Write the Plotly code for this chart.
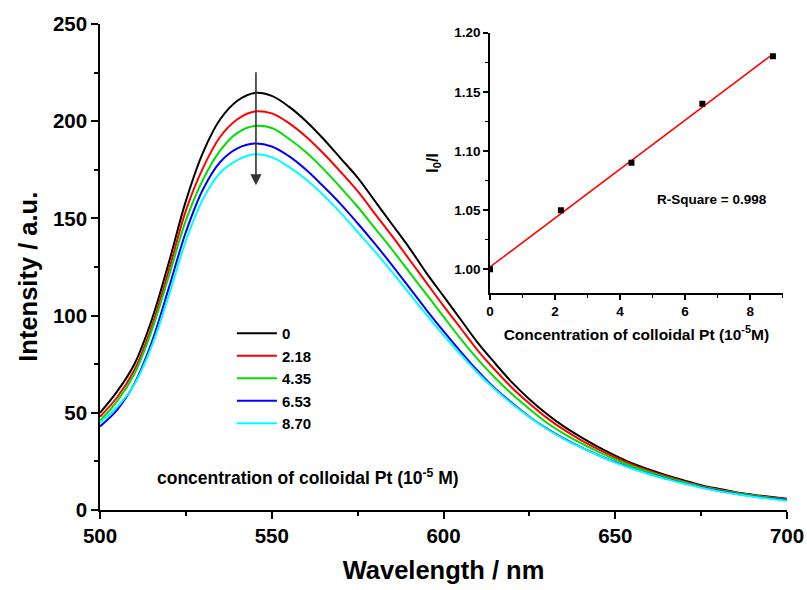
import plotly.graph_objects as go
import numpy as np

# ---------------- data ----------------
wavelength = [500, 505, 510, 515, 520, 525, 530, 535, 540, 545, 550, 555, 560, 565, 570,
              575, 580, 585, 590, 595, 600, 605, 610, 615, 620, 625, 630, 635, 640, 645,
              650, 655, 660, 665, 670, 675, 680, 685, 690, 695, 700]

int_0 = [50, 61, 75, 97.5, 127, 159, 184, 201, 210.5, 214.5, 213, 207.5, 200, 191, 181,
         171, 159, 147, 135, 122, 110, 98, 86, 75.5, 65.5, 57, 49.5, 43, 37.5, 32.5,
         28, 24, 20.7, 17.8, 15.2, 12.8, 10.9, 9.2, 7.9, 6.8, 5.8]
int_218 = [48, 58, 72, 94, 123, 154, 176, 192, 201, 205, 204, 199, 192, 183.5, 174,
           164, 152.5, 141, 129, 117, 105, 93.5, 82, 72, 62.8, 54.8, 47.5, 41.3, 36, 31.3,
           27, 23.3, 20.1, 17.2, 14.7, 12.4, 10.6, 9, 7.7, 6.5, 5.6]
int_435 = [46, 56, 70, 92, 120, 149, 170, 185, 194, 197.5, 196.5, 191, 184, 175.5, 166,
           156, 145, 134, 122.5, 111, 99.5, 88, 77.5, 68, 59.5, 52, 45, 39.3, 34.4, 30,
           26, 22.5, 19.4, 16.7, 14.3, 12.1, 10.3, 8.8, 7.5, 6.3, 5.4]
int_653 = [43, 51.5, 65, 86, 114, 143, 165, 179, 186, 188.5, 187, 182, 175, 166.5, 157.5,
           147.5, 137, 126, 114.5, 103, 92, 81.5, 71.5, 62.5, 55, 48, 42, 36.8, 32.3, 28.3,
           24.6, 21.4, 18.5, 16, 13.7, 11.7, 9.9, 8.4, 7.1, 6, 5.1]
int_870 = [45, 53, 64.5, 84, 110, 138.5, 160, 173.5, 180, 183, 181.5, 176.5, 170, 162, 153,
           143, 133, 122.5, 111.5, 100.5, 90, 80, 70.5, 62, 54.5, 47.8, 41.8, 36.6, 32.2, 28.2,
           24.4, 21.2, 18.4, 15.9, 13.6, 11.5, 9.7, 8.2, 6.9, 5.8, 4.8]

series_names = ["0", "2.18", "4.35", "6.53", "8.70"]
series_colors = ["#000000", "#ff0000", "#00e000", "#0000ff", "#00ffff"]

# inset (Stern-Volmer) data
conc = [0, 2.18, 4.35, 6.53, 8.70]
ratio = [1.00, 1.05, 1.09, 1.14, 1.18]

FONT = "Liberation Sans, Arial, sans-serif"

fig = go.Figure()

for name, col, ys in zip(series_names, series_colors,
                         [int_0, int_218, int_435, int_653, int_870]):
    fig.add_trace(go.Scatter(x=wavelength, y=ys, mode="lines", name=name,
                             line=dict(color=col, width=2, shape="spline", smoothing=1.0),
                             xaxis="x", yaxis="y"))

# inset markers and linear fit
slope, intercept = np.polyfit(conc, ratio, 1)
fit_x = [0, max(conc)]
fit_y = [intercept + slope * v for v in fit_x]
fig.add_trace(go.Scatter(x=fit_x, y=fit_y, mode="lines", showlegend=False,
                         line=dict(color="#ff0000", width=1.5), xaxis="x2", yaxis="y2"))
fig.add_trace(go.Scatter(x=conc, y=ratio, mode="markers", showlegend=False,
                         marker=dict(symbol="square", size=6, color="black"),
                         xaxis="x2", yaxis="y2"))

axis_common = dict(showline=True, linecolor="black", linewidth=1.5, mirror=False,
                   showgrid=False, zeroline=False, ticks="outside", tickcolor="black",
                   tickwidth=1.5, automargin=False)

fig.update_layout(
    width=807, height=590,
    margin=dict(l=100, r=20, t=24, b=80),
    paper_bgcolor="white", plot_bgcolor="white",
    font=dict(family=FONT, color="black"),
    xaxis=dict(**axis_common, range=[500, 700], tickvals=[500, 550, 600, 650, 700],
               ticklen=7, minor=dict(ticks="outside", ticklen=4, dtick=25, tick0=500,
                                     tickcolor="black", tickwidth=1.5),
               tickfont=dict(size=20.5, weight="bold"),
               title=dict(text="Wavelength / nm", font=dict(size=25.5, weight="bold"),
                          standoff=15),
               domain=[0, 1], anchor="y"),
    yaxis=dict(**axis_common, range=[0, 250], tickvals=[0, 50, 100, 150, 200, 250],
               ticklen=7, minor=dict(ticks="outside", ticklen=4, dtick=25, tick0=0,
                                     tickcolor="black", tickwidth=1.5),
               tickfont=dict(size=20.5, weight="bold"),
               domain=[0, 1], anchor="x"),
    xaxis2=dict(**axis_common, range=[0, 9], tickvals=[0, 2, 4, 6, 8], ticklen=5,
                minor=dict(ticks="outside", ticklen=3, dtick=1, tick0=0,
                           tickcolor="black", tickwidth=1.2),
                tickfont=dict(size=13.5, weight="bold"),
                title=dict(text="Concentration of colloidal Pt (10<sup>-5</sup>M)",
                           font=dict(size=15.5, weight="bold"), standoff=11),
                domain=[0.5677, 0.9937], anchor="y2"),
    yaxis2=dict(**axis_common, range=[0.98, 1.20],
                tickvals=[1.00, 1.05, 1.10, 1.15, 1.20], ticktext=["1.00", "1.05", "1.10", "1.15", "1.20"],
                ticklen=5,
                minor=dict(ticks="outside", ticklen=3, dtick=0.025, tick0=1.0,
                           tickcolor="black", tickwidth=1.2),
                tickfont=dict(size=13.5, weight="bold"),
                title=dict(text="I<sub>0</sub>/I", font=dict(size=16, weight="bold"),
                           standoff=12),
                domain=[0.4465, 0.9821], anchor="x2"),
    legend=dict(x=0.192, y=0.397, xanchor="left", yanchor="top",
                bgcolor="rgba(0,0,0,0)", borderwidth=0,
                font=dict(size=15, weight="bold"), tracegroupgap=0, itemwidth=40),
    showlegend=True,
)

# main y-axis title (placed as in the original figure)
fig.add_annotation(x=-0.104, y=0.479, xref="paper", yref="paper", showarrow=False,
                   text="Intensity / a.u.", textangle=-90, xanchor="center", yanchor="middle",
                   font=dict(size=25.5, weight="bold"))

fig.add_annotation(x=545.4, y=167, ax=545.4, ay=226, xref="x", yref="y",
                   axref="x", ayref="y", text="", showarrow=True,
                   arrowhead=2, arrowsize=1.4, arrowwidth=1.6, arrowcolor="#333333")

fig.add_annotation(x=0.08, y=0.068, xref="paper", yref="paper", xanchor="left",
                   yanchor="middle", showarrow=False,
                   text="concentration of colloidal Pt (10<sup>-5</sup> M)",
                   font=dict(size=17.5, weight="bold"))

fig.add_annotation(x=6.82, y=1.0588, xref="x2", yref="y2", showarrow=False,
                   text="R-Square = 0.998", font=dict(size=13.5, weight="bold"))

fig.write_html("out.html")
